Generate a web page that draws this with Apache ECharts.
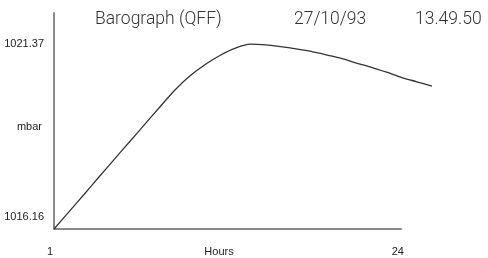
<!DOCTYPE html>
<html>
<head>
<meta charset="utf-8">
<script src="https://cdn.jsdelivr.net/npm/echarts@6/dist/echarts.min.js"></script>
<style>
html,body{margin:0;padding:0;background:#fff;}
#chart{width:488px;height:258px;}
</style>
</head>
<body>
<div id="chart"></div>
<script>
// Data
var hours = [1,2,3,4,5,6,7,8,9,10,11,12,13,14,15,16,17,18,19,20,21,22,23,24,25,26];
var pressure = [1016.16,1016.65,1017.14,1017.64,1018.13,1018.62,1019.11,1019.60,1020.08,1020.48,
                1020.80,1021.06,1021.26,1021.37,1021.35,1021.30,1021.24,1021.17,1021.07,1020.97,
                1020.84,1020.72,1020.58,1020.43,1020.31,1020.19];
var yTickValues = [1016.16, 1021.37];
var xTickValues = [1, 24];
var yAxisMin = 1016.16;
var yAxisMax = 1022.25;
var xAxisMin = 1;
var xAxisMax = 26;
var xAxisLineEnd = 24;
var titleTexts = ['Barograph (QFF)', '27/10/93', '13.49.50'];
var xName = 'Hours';
var yName = 'mbar';

var seriesData = hours.map(function (h, i) { return [h, pressure[i]]; });
var axisLineData = [[xAxisMin, yAxisMin], [xAxisLineEnd, yAxisMin]];

var labelFont = '"Liberation Sans", Arial, sans-serif';
var titleFont = 'Roboto, "Liberation Sans", sans-serif';
var titleLefts = [95, 294, 415];
var lblSize = 11;

var chart = echarts.init(document.getElementById('chart'));
chart.setOption({
  animation: false,
  backgroundColor: '#ffffff',
  title: titleTexts.map(function (t, i) {
    return {
      text: t, left: titleLefts[i], top: 11, padding: 0,
      textStyle: { fontFamily: titleFont, fontWeight: 300, fontSize: 17.5, color: '#333' }
    };
  }),
  grid: { left: 54, right: 56, top: 13, bottom: 29, containLabel: false, outerBoundsMode: 'none' },
  xAxis: {
    type: 'value', min: xAxisMin, max: xAxisMax,
    axisLine: { show: false },
    axisTick: { show: false },
    splitLine: { show: false },
    axisLabel: {
      customValues: xTickValues,
      margin: 17,
      fontFamily: labelFont, fontSize: lblSize, color: '#222',
      padding: [0, 8, 0, 0]
    },
    name: xName, nameLocation: 'middle', nameGap: 17, nameMoveOverlap: false,
    nameTextStyle: { fontFamily: labelFont, fontSize: lblSize, color: '#222', verticalAlign: 'top', padding: [0, 48, 0, 0] }
  },
  yAxis: {
    type: 'value', min: yAxisMin, max: yAxisMax,
    axisLine: { show: true, lineStyle: { color: '#8a8a8a', width: 2 } },
    axisTick: { show: false },
    splitLine: { show: false },
    axisLabel: {
      customValues: yTickValues,
      margin: 10,
      fontFamily: labelFont, fontSize: lblSize, color: '#222',
      formatter: function (v) {
        var s = v.toFixed(2);
        return v < yTickValues[1] ? '{lo|' + s + '}' : s;
      },
      rich: { lo: { fontFamily: labelFont, fontSize: lblSize, color: '#222', padding: [0, 0, 24, 0] } }
    },
    name: yName, nameLocation: 'middle', nameGap: 12, nameRotate: 0, nameMoveOverlap: false,
    nameTextStyle: { fontFamily: labelFont, fontSize: lblSize, color: '#222', align: 'right', verticalAlign: 'top' }
  },
  series: [
    {
      type: 'line', data: axisLineData, symbol: 'none', silent: true, clip: false,
      lineStyle: { color: '#8a8a8a', width: 2 }, z: 1
    },
    {
      type: 'line', data: seriesData, symbol: 'none', smooth: 0.3, clip: false,
      lineStyle: { color: '#333', width: 1.3 }, z: 3
    }
  ]
});
</script>
</body>
</html>
